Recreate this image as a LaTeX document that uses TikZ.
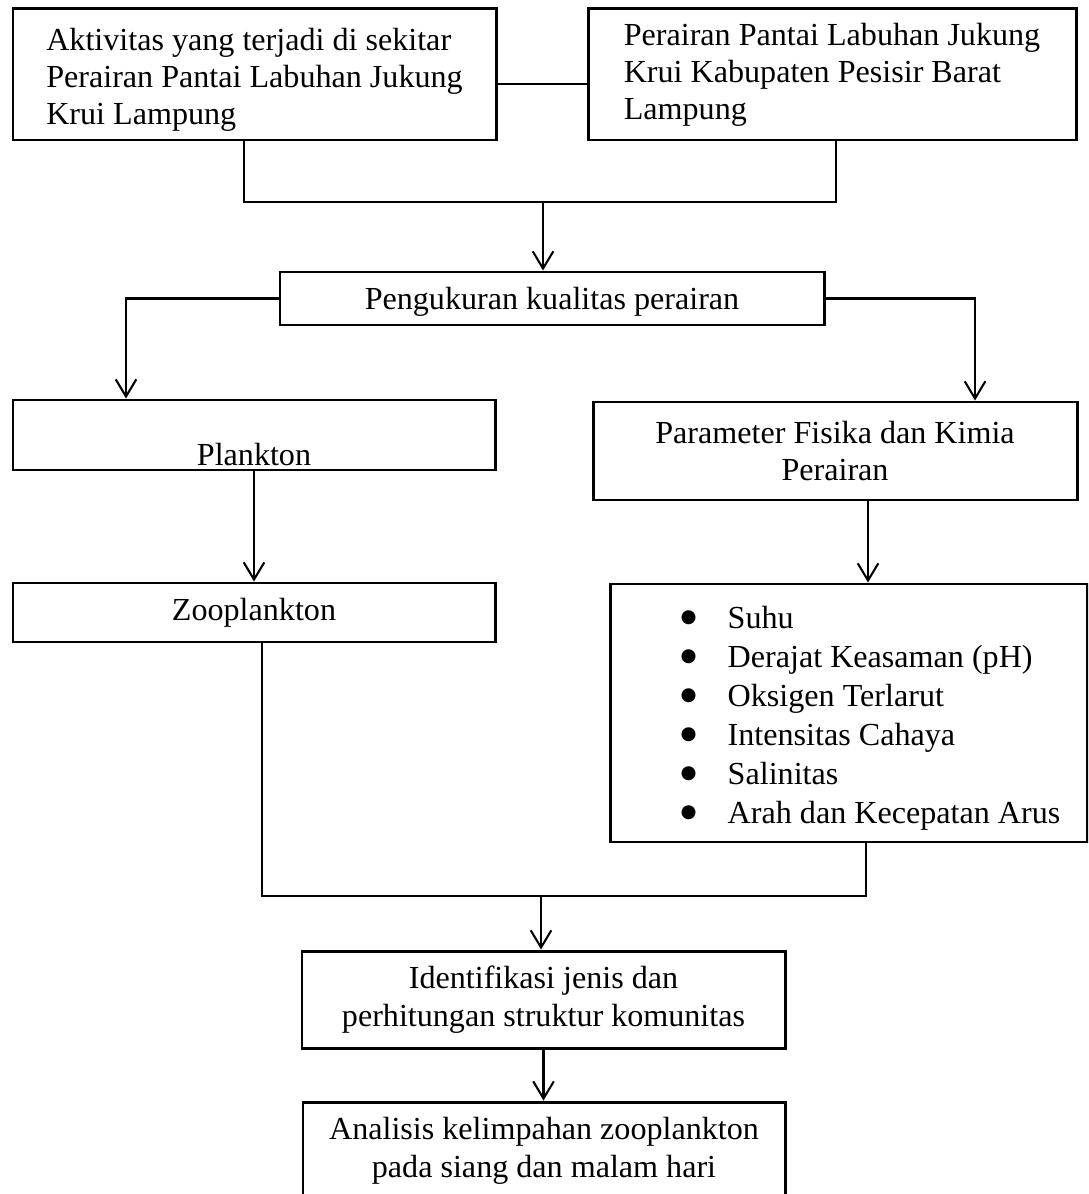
\documentclass[tikz,border=0pt]{standalone}
\usepackage{fontspec}
\setmainfont{Liberation Serif}
\newfontfamily\symfont{DejaVu Sans}
\usetikzlibrary{positioning, arrows.meta}
\newdimen\px \px=0.436pt
\newcommand{\itm}[1]{\makebox[47\px][l]{\raisebox{2.4pt}{\symfont\fontsize{8}{8}\selectfont ●}}#1}
\newcommand{\lowered}[2]{\raisebox{-#1\px}[\height][\depth]{#2}}

\begin{document}
\begin{tikzpicture}[x=0.436pt, y=-0.436pt, every node/.style={font=\fontsize{14}{16.1}\selectfont}]
	\tikzstyle{box}=[draw=black, line width=1.3pt, rectangle, inner sep=0pt, align=center]
	\tikzstyle{line}=[draw=black, line width=0.7pt]
	\tikzstyle{arr}=[line, line width=0.9pt, -{Straight Barb[length=7.5pt, width=9pt]}]
	
	\clip (0,0) rectangle (1088,1194);
	
	\node (aktivitas) at (254.5,74.5) [box, minimum width=483\px, minimum height=131\px] {\lowered{6}{\begin{tabular}{@{}l@{}}Aktivitas yang terjadi di sekitar\\Perairan Pantai Labuhan Jukung\\Krui Lampung\end{tabular}}};
	\node (perairan) at (832,74.5) [box, minimum width=488\px, minimum height=131\px, align=left] {Perairan Pantai Labuhan Jukung\\Krui Kabupaten Pesisir Barat\\Lampung};
	\node (pengukuran) at (552,298.5) [box, minimum width=544\px, minimum height=53\px] {\lowered{3}{Pengukuran kualitas perairan}};
	\node (plankton) at (254,435) [box, minimum width=482\px, minimum height=70\px] {\lowered{20}{Plankton}};
	\node (parameter) at (835,451) [box, minimum width=484\px, minimum height=98\px] {Parameter Fisika dan Kimia\\Perairan};
	\node (zoo) at (254,612.5) [box, minimum width=482\px, minimum height=59\px] {Zooplankton};
	\node (daftar) at (848.5,713) [box, minimum width=477\px, minimum height=258\px, font=\fontsize{14}{17}\selectfont] {\lowered{5}{\begin{tabular}{@{\hspace{44\px}}l@{}}\itm{Suhu}\\\itm{Derajat Keasaman (pH)}\\\itm{Oksigen Terlarut}\\\itm{Intensitas Cahaya}\\\itm{Salinitas}\\\itm{Arah dan Kecepatan Arus}\end{tabular}}};
	\node (identifikasi) at (543.5,999.5) [box, minimum width=483\px, minimum height=97\px, font=\fontsize{14}{16.6}\selectfont] {Identifikasi jenis dan\\perhitungan struktur komunitas};
	\node (analisis) at (544,1151) [box, minimum width=482\px, minimum height=98\px, font=\fontsize{14}{16.6}\selectfont] {Analisis kelimpahan zooplankton\\pada siang dan malam hari};
	
	\coordinate (l1) at (244,202);
	\coordinate (r1) at (836,202);
	\coordinate (m1) at (543,202);
	\coordinate (bl) at (126,0);
	\coordinate (br) at (975,0);
	\coordinate (pa) at (868,0);
	\coordinate (l2) at (262,896);
	\coordinate (r2) at (866,896);
	\coordinate (m2) at (541,896);
	
	\draw [line] ([yshift=-4.1pt]aktivitas.east) -- ([yshift=-4.1pt]perairan.west);
	\draw [line] (l1 |- aktivitas.south) -- (l1) -- (r1) -- (r1 |- perairan.south);
	\draw [arr] (m1) -- (m1 |- pengukuran.north);
	\draw [arr] (pengukuran.west) -| (bl |- plankton.north);
	\draw [arr] (pengukuran.east) -| (br |- parameter.north);
	\draw [arr] (plankton) -- (zoo);
	\draw [arr] (pa |- parameter.south) -- (pa |- daftar.north);
	\draw [line] (l2 |- zoo.south) -- (l2) -- (r2) -- (r2 |- daftar.south);
	\draw [arr] (m2) -- (m2 |- identifikasi.north);
	\draw [arr] (identifikasi.south) -- (identifikasi.south |- analisis.north);
\end{tikzpicture}
\end{document}
